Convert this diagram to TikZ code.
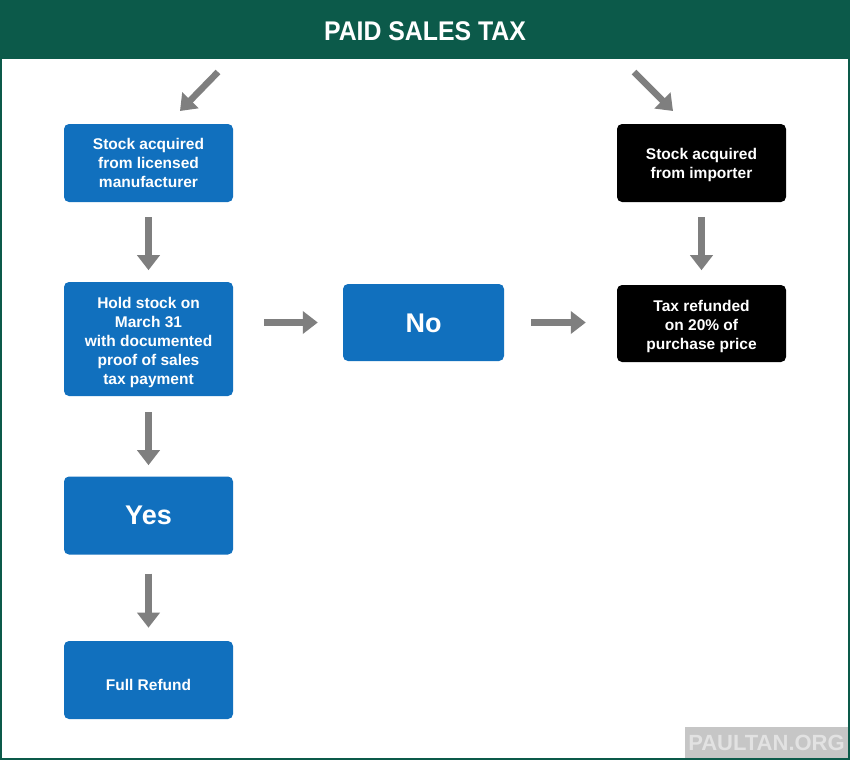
\documentclass[tikz,border=0pt]{standalone}
\usepackage{fontspec}
\setmainfont{Liberation Sans}
\usetikzlibrary{arrows.meta}
\definecolor{hdrgreen}{HTML}{0C5A4A}
\definecolor{boxblue}{HTML}{1170BE}
\definecolor{arrgray}{HTML}{7F7F7F}
\definecolor{wmgray}{HTML}{C6C6C6}
\definecolor{wmtext}{HTML}{E2E2E2}
\tikzset{
  bluebox/.style={fill=boxblue, rounded corners=5pt, inner sep=0pt, minimum width=169pt, minimum height=78pt},
  blackbox/.style={bluebox, fill=black},
  boxtext/.style={text=white, font=\bfseries\fontsize{15.5}{19}\selectfont, align=center, inner sep=0pt},
  bigtext/.style={boxtext, font=\bfseries\fontsize{27}{30}\selectfont},
  garrow/.style={draw=arrgray, line width=6.5pt, -{Triangle[length=15pt,width=22pt]}},
}
\begin{document}
\begin{tikzpicture}[x=1pt,y=-1pt]
\useasboundingbox (0,0) rectangle (850,760);
\fill[white] (0,0) rectangle (850,760);
\fill[hdrgreen] (0,0) rectangle (850,59);
\draw[hdrgreen, line width=2pt] (1,58) -- (1,759) -- (849,759) -- (849,58);
\node[text=white, font=\bfseries\fontsize{27}{30}\selectfont] (title) at (425,31) {\scalebox{0.92}[1]{PAID SALES TAX}};

\node[bluebox] (a) at (148.5,163) {};
\node[boxtext] (at) at (a.center) {Stock acquired\\from licensed\\manufacturer};
\node[bluebox, minimum height=114pt] (b) at (148.5,339) {};
\node[boxtext] (bt) at ([yshift=-3.5pt]b.center) {Hold stock on\\March 31\\with documented\\proof of sales\\tax payment};
\node[bluebox] (c) at (148.5,515.5) {};
\node[bigtext] (ct) at (c.center) {Yes};
\node[bluebox] (d) at (148.5,680) {};
\node[boxtext] (dt) at ([yshift=-4.5pt]d.center) {Full Refund};
\node[bluebox, minimum width=161pt, minimum height=77pt] (no) at (423.5,322.5) {};
\node[bigtext] (nt) at ([yshift=-1pt]no.center) {No};
\node[blackbox] (e) at (701.5,163) {};
\node[boxtext] (et) at ([yshift=-2pt]e.center) {Stock acquired\\from importer};
\node[blackbox, minimum height=77pt] (f) at (701.5,323.5) {};
\node[boxtext] (ft) at ([yshift=-2.5pt]f.center) {Tax refunded\\on 20\% of\\purchase price};

\coordinate (s1) at (218,72);
\coordinate (t1) at (180,111);
\coordinate (s2) at (634,72);
\coordinate (t2) at (673,111);
\draw[garrow] (s1) -- (t1);
\draw[garrow] (s2) -- (t2);
\draw[garrow] ([yshift=-15pt]a.south) -- ([yshift=-68pt]a.south);
\draw[garrow] ([yshift=-16pt]b.south) -- ([yshift=-69pt]b.south);
\draw[garrow] ([yshift=-19pt]c.south) -- ([yshift=-73pt]c.south);
\draw[garrow] ([yshift=-15pt]e.south) -- ([yshift=-68pt]e.south);
\draw[garrow] ([xshift=31pt]b.east |- no.west) -- ([xshift=-25pt]no.west);
\draw[garrow] ([xshift=27pt]no.east) -- ([xshift=-31pt]f.west |- no.east);

\fill[wmgray] (685,727) rectangle (848,758);
\node[text=wmtext, font=\bfseries\fontsize{22}{24}\selectfont] (wm) at (766.5,743) {PAULTAN.ORG};
\end{tikzpicture}
\end{document}
